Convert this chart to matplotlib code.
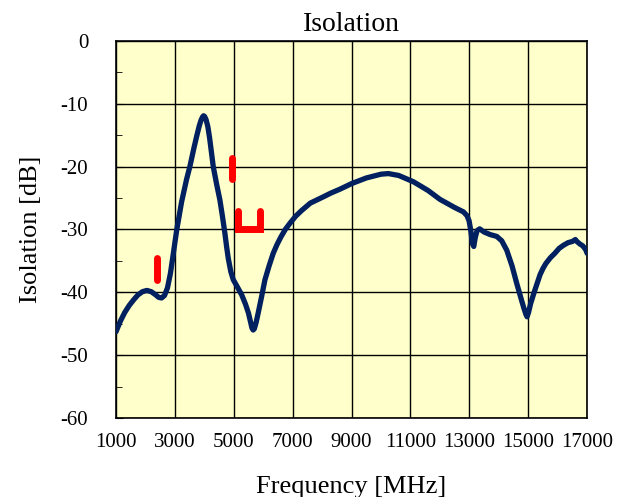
import matplotlib
matplotlib.use("Agg")
import matplotlib.pyplot as plt
from matplotlib.ticker import MultipleLocator

plt.rcParams["font.family"] = ["Liberation Serif", "DejaVu Serif"]
plt.rcParams["axes.unicode_minus"] = False

# measured isolation trace
freq = [1000, 1150, 1300, 1450, 1600, 1750, 1900, 2050, 2200, 2350,
        2450, 2550, 2650, 2750, 2850, 2950, 3060, 3230, 3400, 3510,
        3650, 3750, 3830, 3890, 3940, 3975, 4010, 4060, 4120, 4180,
        4240, 4305, 4420, 4530, 4620, 4700, 4760, 4815, 4900, 4985,
        5130, 5270, 5400, 5500, 5570, 5620, 5660, 5700, 5760, 5830,
        5950, 6060, 6200, 6340, 6470, 6600, 6750, 6910, 7100, 7300,
        7600, 8000, 8300, 8600, 9000, 9500, 10000, 10250, 10600, 11100,
        11600, 12000, 12500, 12800, 12920, 12990, 13050, 13100, 13150, 13200,
        13260, 13350, 13500, 13700, 13930, 14100, 14270, 14450, 14610, 14750,
        14850, 14920, 14960, 15010, 15080, 15200, 15300, 15400, 15500, 15600,
        15750, 15900, 16050, 16200, 16350, 16500, 16600, 16650, 16750, 16850,
        16950, 17000]
iso = [-46.3, -44.6, -43.2, -42.1, -41.2, -40.4, -39.9, -39.7, -39.9, -40.4,
       -40.8, -40.9, -40.5, -39.3, -37.0, -33.8, -30.2, -25.6, -22.0, -20.0,
       -17.0, -15.0, -13.5, -12.6, -12.1, -11.9, -12.0, -12.5, -13.6, -15.4,
       -17.6, -20.0, -22.8, -25.3, -28.0, -30.6, -32.8, -34.6, -36.7, -38.0,
       -39.2, -40.4, -41.9, -43.3, -44.7, -45.7, -46.0, -45.8, -44.8, -43.3,
       -40.6, -38.0, -35.8, -33.8, -32.4, -31.2, -30.0, -29.0, -27.9, -27.0,
       -25.8, -24.9, -24.2, -23.6, -22.7, -21.8, -21.2, -21.1, -21.4, -22.4,
       -23.8, -25.2, -26.5, -27.2, -27.8, -28.6, -30.2, -32.2, -32.7, -31.3,
       -30.2, -29.9, -30.4, -30.8, -31.1, -31.8, -33.3, -35.8, -38.6, -40.9,
       -42.5, -43.5, -43.9, -43.2, -41.8, -40.0, -38.6, -37.2, -36.2, -35.4,
       -34.5, -33.8, -33.0, -32.5, -32.1, -31.9, -31.6, -31.9, -32.3, -32.6,
       -33.2, -33.8]

# spec limit marks (red)
spec1_x = [2400, 2400]
spec1_y = [-34.6, -38.0]
spec2_x = [4950, 4950]
spec2_y = [-18.7, -22.0]
spec3_x = [5150, 5150, 5900, 5900]
spec3_y = [-27.0, -30.0, -30.0, -27.0]

xticks = list(range(1000, 17001, 2000))

fig = plt.figure(figsize=(6.3, 4.97), dpi=100)
ax = fig.add_axes([0.184, 0.159, 0.748, 0.7585])
ax.set_facecolor("#FFFFCC")

ax.plot(freq, iso, color="#002060", lw=3.8, solid_capstyle="round",
        solid_joinstyle="round", zorder=3)
for sx, sy in [(spec1_x, spec1_y), (spec2_x, spec2_y), (spec3_x, spec3_y)]:
    ax.plot(sx, sy, color="#FF0000", lw=5, solid_capstyle="round",
            solid_joinstyle="miter", zorder=4)

ax.set_xlim(1000, 17000)
ax.set_ylim(-60, 0)
ax.set_xticks(xticks)
ax.yaxis.set_major_locator(MultipleLocator(10))
ax.yaxis.set_minor_locator(MultipleLocator(5))
ax.grid(True, which="major", color="black", lw=1.0)
ax.set_axisbelow(True)

for sp in ax.spines.values():
    sp.set_color("black")
    sp.set_linewidth(1.2)

ax.tick_params(axis="x", length=0, pad=11, labelsize=15)
ax.tick_params(axis="y", which="major", direction="in", length=5,
               pad=20, labelsize=15)
ax.tick_params(axis="y", which="minor", direction="in", length=4)

ax.set_title("Isolation", fontsize=20, pad=7)
ax.set_xlabel("Frequency [MHz]", fontsize=19, labelpad=17)
ax.set_ylabel("Isolation [dB]", fontsize=19, labelpad=13)

fig.savefig("out.png", dpi=100, facecolor="white")
